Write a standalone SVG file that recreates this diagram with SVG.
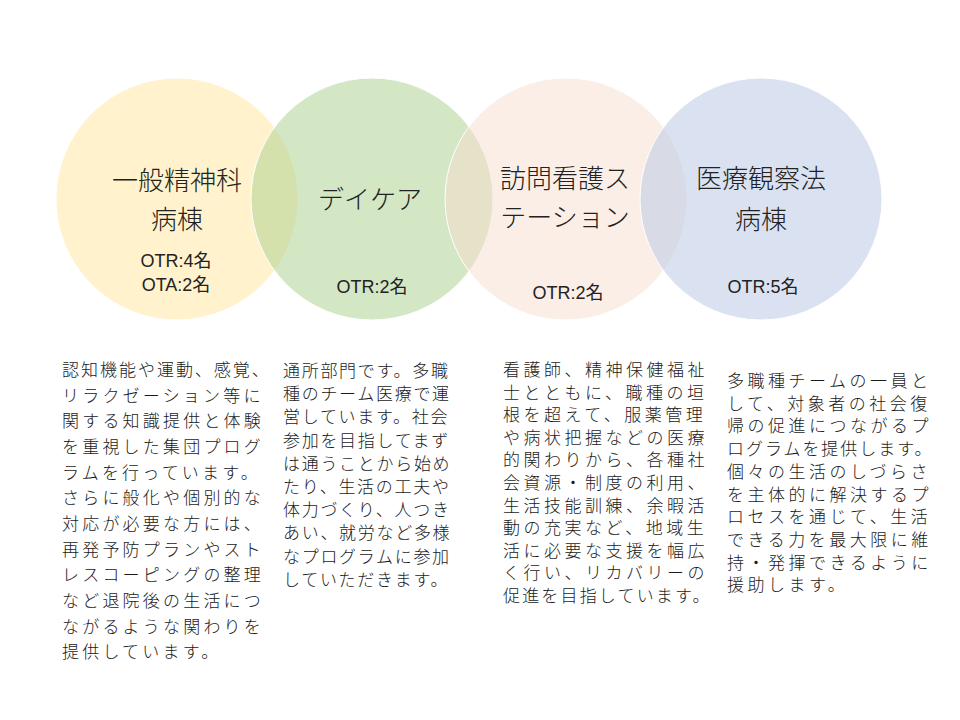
<svg xmlns="http://www.w3.org/2000/svg" width="960" height="720" viewBox="0 0 960 720">
<style>
.c{stroke:#ffffff;stroke-width:1;fill-opacity:0.5}
.t{font-family:"Noto Sans CJK JP","Noto Sans CJK SC",sans-serif;font-size:26px;font-weight:300;fill:#222;text-anchor:middle}
.o{font-family:"Liberation Sans","Noto Sans CJK JP",sans-serif;font-size:18px;fill:#222;text-anchor:middle}
.b{font-family:"Noto Sans CJK JP","Noto Sans CJK SC",sans-serif;font-size:17px;font-weight:300;fill:#1a1a1a}
</style>
<rect width="960" height="720" fill="#ffffff"/>
<g id="connectors"/>
<g id="node-ippan">
<circle class="c" cx="177" cy="199" r="121" fill="#FFE599"/>
<text class="t" x="177" y="190">一般精神科</text>
<text class="t" x="177" y="229">病棟</text>
<text class="o" x="176" y="267">OTR:4名</text>
<text class="o" x="176" y="291">OTA:2名</text>
<g class="b" style="letter-spacing:3.2px">
<text x="62" y="376" textLength="210" lengthAdjust="spacing">認知機能や運動、感覚、</text>
<text x="62" y="401.6">リラクゼーション等に</text>
<text x="62" y="427.3">関する知識提供と体験</text>
<text x="62" y="453">を重視した集団プログ</text>
<text x="62" y="478.6">ラムを行っています。</text>
<text x="62" y="504.3">さらに般化や個別的な</text>
<text x="62" y="530">対応が必要な方には、</text>
<text x="62" y="555.6">再発予防プランやスト</text>
<text x="62" y="581.3">レスコーピングの整理</text>
<text x="62" y="607">など退院後の生活につ</text>
<text x="62" y="632.6">ながるような関わりを</text>
<text x="62" y="658.3">提供しています。</text>
</g>
</g>
<g id="node-daycare">
<circle class="c" cx="372" cy="199" r="121" fill="#A9CF8B"/>
<text class="t" x="370" y="209">デイケア</text>
<text class="o" x="372" y="293">OTR:2名</text>
<g class="b" style="letter-spacing:1.7px">
<text x="283" y="377">通所部門です。多職</text>
<text x="283" y="400.2">種のチーム医療で運</text>
<text x="283" y="423.4">営しています。社会</text>
<text x="283" y="446.6">参加を目指してまず</text>
<text x="283" y="469.8">は通うことから始め</text>
<text x="283" y="493">たり、生活の工夫や</text>
<text x="283" y="516.2">体力づくり、人つき</text>
<text x="283" y="539.4">あい、就労など多様</text>
<text x="283" y="562.6">なプログラムに参加</text>
<text x="283" y="585.8">していただきます。</text>
</g>
</g>
<g id="node-houmon">
<circle class="c" cx="566" cy="199" r="121" fill="#F7DDCD"/>
<text class="t" x="565" y="188">訪問看護ス</text>
<text class="t" x="565" y="227">テーション</text>
<text class="o" x="568" y="299">OTR:2名</text>
<g class="b" style="letter-spacing:3.5px">
<text x="503" y="376">看護師、精神保健福祉</text>
<text x="503" y="398.6">士とともに、職種の垣</text>
<text x="503" y="421.2">根を超えて、服薬管理</text>
<text x="503" y="443.8">や病状把握などの医療</text>
<text x="503" y="466.4">的関わりから、各種社</text>
<text x="503" y="489">会資源・制度の利用、</text>
<text x="503" y="511.6">生活技能訓練、余暇活</text>
<text x="503" y="534.2">動の充実など、地域生</text>
<text x="503" y="556.8">活に必要な支援を幅広</text>
<text x="503" y="579.4">く行い、リカバリーの</text>
<text x="503" y="602" textLength="210" lengthAdjust="spacing">促進を目指しています。</text>
</g>
</g>
<g id="node-iryo">
<circle class="c" cx="761" cy="199" r="121" fill="#B5C5E5"/>
<text class="t" x="761" y="188">医療観察法</text>
<text class="t" x="761" y="229">病棟</text>
<text class="o" x="763" y="293">OTR:5名</text>
<g class="b" style="letter-spacing:3.5px">
<text x="727" y="387">多職種チームの一員と</text>
<text x="727" y="409.7">して、対象者の社会復</text>
<text x="727" y="432.4">帰の促進につながるプ</text>
<text x="727" y="455.1" textLength="208" lengthAdjust="spacing">ログラムを提供します。</text>
<text x="727" y="477.8">個々の生活のしづらさ</text>
<text x="727" y="500.5">を主体的に解決するプ</text>
<text x="727" y="523.2">ロセスを通じて、生活</text>
<text x="727" y="545.9">できる力を最大限に維</text>
<text x="727" y="568.6">持・発揮できるように</text>
<text x="727" y="591.3">援助します。</text>
</g>
</g>
</svg>
